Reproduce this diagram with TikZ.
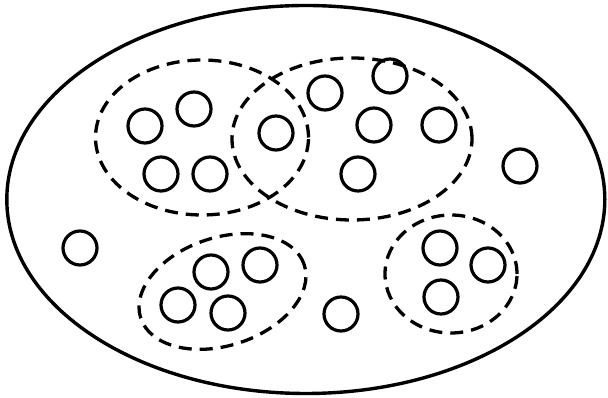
\documentclass[tikz,border=0pt]{standalone}
\begin{document}
\begin{tikzpicture}[x=1pt,y=1pt,
  elem/.style={circle,draw=black,line width=3.2pt,minimum size=34pt,inner sep=0pt},
  grp/.style={draw=black,line width=3.3pt,dash pattern=on 13pt off 8pt},
  outer/.style={draw=black,line width=3.4pt}]
\useasboundingbox (0,0) rectangle (608,398);
% outer set
\draw[outer] (305.8,198.5) ellipse [x radius=299, y radius=194];
% groups
\draw[grp] (202,260.5) ellipse [x radius=106.5, y radius=77.5];
\draw[grp] (352,259) ellipse [x radius=120, y radius=81];
\draw[grp] (222.5,106.5) [rotate around={18:(222.5,106.5)}] ellipse [x radius=86, y radius=54];
\draw[grp] (451,124) ellipse [x radius=66, y radius=59];
% elements
\node[elem] (c1) at (145,272) {};
\node[elem] (c2) at (194,289) {};
\node[elem] (c3) at (161,224) {};
\node[elem] (c4) at (210,224) {};
\node[elem] (c5) at (276,265) {};
\node[elem] (c6) at (325,305) {};
\node[elem] (c7) at (390,322) {};
\node[elem] (c8) at (374,273) {};
\node[elem] (c9) at (439,273) {};
\node[elem] (c10) at (358,224) {};
\node[elem] (c11) at (520,232) {};
\node[elem] (c12) at (80,150) {};
\node[elem] (c13) at (211,126) {};
\node[elem] (c14) at (260,133) {};
\node[elem] (c15) at (178,93) {};
\node[elem] (c16) at (228,85) {};
\node[elem] (c17) at (341,84) {};
\node[elem] (c18) at (440,150) {};
\node[elem] (c19) at (488,133) {};
\node[elem] (c20) at (441,101) {};
\end{tikzpicture}
\end{document}
